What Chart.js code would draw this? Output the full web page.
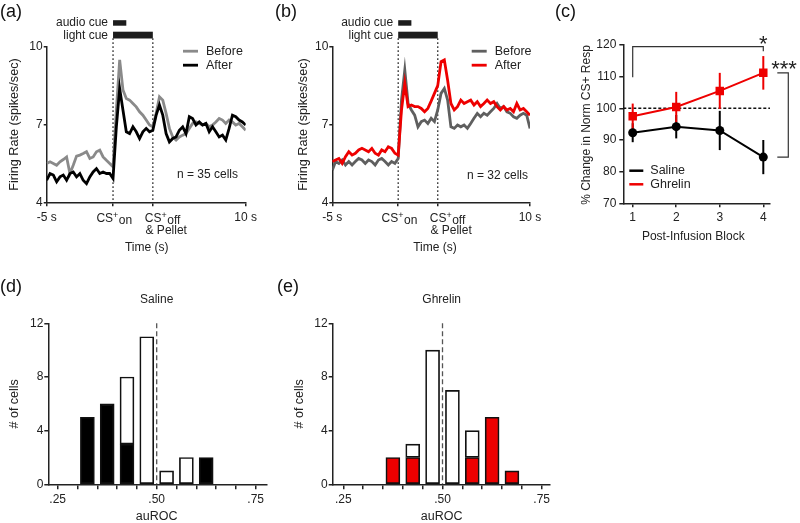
<!DOCTYPE html>
<html>
<head>
<meta charset="utf-8">
<title>CS+ firing rate, ghrelin vs saline</title>
<script src="https://cdn.jsdelivr.net/npm/chart.js@4.4.1/dist/chart.umd.min.js"></script>
<style>
  body { margin: 0; width: 800px; height: 523px; background: #fff; position: relative; overflow: hidden; }
  canvas { position: absolute; }
  .lab { position: absolute; font: 18px "Liberation Sans", Arial, sans-serif; line-height: 20px; color: #111; }
</style>
</head>
<body>
<canvas id="chartA" width="270" height="262" style="left:0;top:0"></canvas>
<canvas id="chartB" width="280" height="262" style="left:270px;top:0"></canvas>
<canvas id="chartC" width="260" height="250" style="left:540px;top:0"></canvas>
<canvas id="chartD" width="280" height="253" style="left:0;top:270px"></canvas>
<canvas id="chartE" width="280" height="253" style="left:280px;top:270px"></canvas>
<div class="lab" style="left:0;top:1px">(a)</div>
<div class="lab" style="left:275px;top:1px">(b)</div>
<div class="lab" style="left:555px;top:1px">(c)</div>
<div class="lab" style="left:0;top:276px">(d)</div>
<div class="lab" style="left:277px;top:276px">(e)</div>
<script>
// firing rate traces (spikes/sec), one value every 0.25 s
var traceTime = [-5, -4.75, -4.5, -4.25, -4, -3.75, -3.5, -3.25, -3, -2.75, -2.5, -2.25, -2, -1.75, -1.5, -1.25, -1, -0.75, -0.5, -0.25,
  0, 0.25, 0.5, 0.75, 1, 1.25, 1.5, 1.75, 2, 2.25, 2.5, 2.75, 3, 3.25, 3.5, 3.75, 4, 4.25, 4.5, 4.75, 5, 5.25, 5.5, 5.75,
  6, 6.25, 6.5, 6.75, 7, 7.25, 7.5, 7.75, 8, 8.25, 8.5, 8.75, 9, 9.25, 9.5, 9.75, 10];
var beforeA = [5.50, 5.56, 5.50, 5.43, 5.56, 5.65, 5.75, 5.11, 5.43, 5.78, 5.82, 5.88, 5.95, 5.69, 5.75, 5.95, 6.01, 5.75, 5.62, 5.50,
  5.37, 7.55, 9.49, 8.33, 8.00, 7.94, 7.81, 7.68, 7.49, 7.36, 7.17, 6.98, 6.91,
  7.43, 8.07, 7.94, 7.43, 6.85, 6.52, 6.40, 6.52, 6.59, 6.65, 6.85, 7.04, 7.10, 7.04, 6.98, 7.04, 6.91, 6.98, 7.10, 7.23, 7.17,
  7.04, 7.17, 7.10, 6.98, 7.04, 6.91, 6.78];
var afterA = [4.85, 5.11, 5.05, 4.79, 4.98, 5.05, 4.85, 5.11, 5.17, 4.98, 5.11, 4.85, 4.72, 4.98, 5.17, 5.30, 5.11, 5.17, 5.11, 5.11,
  4.92, 6.91, 8.39, 7.55, 6.72, 6.65, 6.91, 6.72, 6.46, 6.72, 6.85, 6.72, 6.78,
  7.36, 7.75, 7.36, 6.65, 6.33, 6.46, 6.52, 6.78, 6.91, 6.65, 7.30, 7.23, 6.98, 7.10, 6.98, 7.04, 6.72, 6.91, 6.72, 6.52, 6.59,
  6.40, 6.85, 7.36, 7.30, 7.17, 7.10, 6.98];
var beforeB = [5.24, 5.57, 5.50, 5.63, 5.44, 5.57, 5.44, 5.57, 5.69, 5.63, 5.50, 5.63, 5.57, 5.44, 5.63, 5.69, 5.57, 5.44, 5.57, 5.50,
  5.69, 7.94, 9.10, 7.81, 7.56, 7.36, 6.91, 7.11, 7.17, 7.04, 7.24, 7.11, 7.56,
  8.20, 8.39, 7.94, 6.91, 6.85, 6.98, 6.91, 6.98, 6.85, 7.04, 7.24, 7.43, 7.30, 7.43, 7.36, 7.49, 7.62, 7.81, 7.62, 7.69, 7.49,
  7.43, 7.30, 7.24, 7.36, 7.43, 7.36, 6.85];
var afterB = [5.57, 5.63, 5.69, 5.50, 5.76, 5.95, 5.82, 5.89, 6.02, 6.08, 6.02, 5.95, 6.08, 5.89, 5.82, 6.02, 5.95, 6.14, 6.08, 5.89,
  5.82, 7.56, 8.59, 7.69, 7.75, 7.69, 7.69, 7.62, 7.49, 7.62, 7.90, 8.20, 8.50,
  9.42, 9.49, 8.71, 7.81, 7.56, 7.69, 7.94, 7.81, 7.88, 7.94, 7.75, 7.88, 7.69, 7.81, 7.94, 7.81, 7.88, 7.69, 7.56, 7.69, 7.56,
  7.62, 7.49, 7.81, 7.56, 7.62, 7.49, 7.36];
var audioCue = [0, 1];
var lightCue = [0, 3];
var traceTicks = [-5, 0, 3, 10];
var traceTickLabels = ['-5 s', '', '', '10 s'];
var rateTicks = [4, 7, 10];

// % change in normalized CS+ response per post-infusion block
var blocks = [1, 2, 3, 4];
var salineMean = [92.3, 94.2, 93.0, 84.6];
var salineSem = [3.0, 3.7, 6.2, 5.4];
var ghrelinMean = [97.5, 100.4, 105.5, 111.2];
var ghrelinSem = [4.0, 4.8, 5.7, 5.3];
var changeTicks = [70, 80, 90, 100, 110, 120];

// auROC histograms: significant (filled) and non-significant (open) cells
var salineBins = [0.325, 0.375, 0.425, 0.475, 0.525, 0.575, 0.625];
var salineSig = [5, 6, 3, 0, 0, 0, 2];
var salineNs = [0, 0, 5, 11, 1, 2, 0];
var ghrelinBins = [0.375, 0.425, 0.475, 0.525, 0.575, 0.625, 0.675];
var ghrelinSig = [2, 2, 0, 0, 2, 5, 1];
var ghrelinNs = [0, 1, 10, 7, 2, 0, 0];
var aurocTicks = [0.25, 0.30, 0.35, 0.40, 0.45, 0.50, 0.55, 0.60, 0.65, 0.70, 0.75];
var aurocLabels = ['.25', '', '', '', '', '.50', '', '', '', '', '.75'];
var countTicks = [0, 4, 8, 12];

var FONT = '"Liberation Sans", Arial, Helvetica, sans-serif';
var RED = '#ee0000';
Chart.defaults.font.family = FONT;
Chart.defaults.font.size = 12;
Chart.defaults.color = '#222';

function xy(xs, ys) { return xs.map(function (x, i) { return {x: x, y: ys[i]}; }); }
function nz(v) { return v === 0 ? null : v; }

function txt(ctx, s, x, y, o) {
  o = o || {};
  ctx.save();
  ctx.font = (o.size || 12) + 'px ' + FONT;
  ctx.fillStyle = o.color || '#222';
  ctx.textAlign = o.align || 'center';
  ctx.textBaseline = o.base || 'middle';
  ctx.translate(x, y);
  if (o.rot) ctx.rotate(o.rot);
  ctx.fillText(s, 0, 0);
  ctx.restore();
}

function line(ctx, pts, color, width, dash) {
  ctx.save();
  ctx.strokeStyle = color;
  ctx.lineWidth = width;
  ctx.setLineDash(dash || []);
  ctx.beginPath();
  pts.forEach(function (p, i) { if (i) ctx.lineTo(p[0], p[1]); else ctx.moveTo(p[0], p[1]); });
  ctx.stroke();
  ctx.restore();
}

// "CS" with a raised plus and a lowered suffix
function csLabel(ctx, left, y, sub) {
  ctx.save();
  ctx.fillStyle = '#222';
  ctx.textAlign = 'left';
  ctx.textBaseline = 'alphabetic';
  ctx.font = '12px ' + FONT;
  ctx.fillText('CS', left, y + 4.3);
  var w = ctx.measureText('CS').width;
  ctx.font = '9px ' + FONT;
  ctx.fillText('+', left + w, y - 0.5);
  var w2 = ctx.measureText('+').width;
  ctx.font = '12px ' + FONT;
  ctx.fillText(sub, left + w + w2 + 0.5, y + 6);
  ctx.restore();
}

// page box of the canvas and wanted plot area -> padding and axis sizes
function frame(box, plot) {
  return {
    padding: {left: 0, top: plot.t - box.y, right: box.x + box.w - plot.r, bottom: 0},
    yw: plot.l - box.x,
    xh: box.y + box.h - plot.b
  };
}

function axis(o) {
  var ax = {
    type: 'linear',
    min: o.min,
    max: o.max,
    offset: false,
    border: {display: true, color: '#222', width: 1.5},
    grid: {display: true, drawOnChartArea: false, drawTicks: true, tickLength: o.tickLength || 4, color: '#222', lineWidth: 1.5, offset: false},
    ticks: {
      autoSkip: false, maxRotation: 0, padding: o.pad == null ? 3 : o.pad, color: '#222', font: {size: 12},
      callback: function (v, i) { return o.labels ? o.labels[i] : String(v); }
    },
    afterBuildTicks: function (s) { s.ticks = o.ticks.map(function (v) { return {value: v}; }); },
    afterFit: o.fit
  };
  if (o.stacked) ax.stacked = true;
  return ax;
}

function baseOptions(f, scales) {
  return {
    responsive: false,
    animation: false,
    layout: {padding: f.padding, autoPadding: false},
    plugins: {legend: {display: false}, tooltip: {enabled: false}, title: {display: false}},
    scales: scales
  };
}

function traceDecor(look) {
  var ox = look.box.x, oy = look.box.y;
  return {
    id: 'traceDecor',
    beforeDatasetsDraw: function (chart) {
      var a = chart.chartArea, xs = chart.scales.x;
      lightCue.forEach(function (v) {
        var x = xs.getPixelForValue(v);
        line(chart.ctx, [[x, a.top - 8.5], [x, a.bottom]], '#333', 1.3, [1.8, 2.2]);
      });
    },
    afterDraw: function (chart) {
      var ctx = chart.ctx, a = chart.chartArea, xs = chart.scales.x;
      var x0 = xs.getPixelForValue(lightCue[0]);
      var x3 = xs.getPixelForValue(lightCue[1]);
      var xa0 = xs.getPixelForValue(audioCue[0]);
      var xa1 = xs.getPixelForValue(audioCue[1]);
      ctx.save();
      ctx.fillStyle = '#1c1c1c';
      ctx.fillRect(xa0, a.top - 26.5, xa1 - xa0, 5.5);
      ctx.fillRect(x0, a.top - 15, x3 - x0, 6.8);
      ctx.restore();
      txt(ctx, 'audio cue', x0 - 5, a.top - 24, {align: 'right'});
      txt(ctx, 'light cue', x0 - 5, a.top - 11.5, {align: 'right'});

      // legend
      var lx = look.legendX - ox;
      line(ctx, [[lx, a.top + 4.5], [lx + 15, a.top + 4.5]], look.before, 2.8);
      line(ctx, [[lx, a.top + 18.5], [lx + 15, a.top + 18.5]], look.after, 2.8);
      txt(ctx, 'Before', lx + 23, a.top + 4.5, {align: 'left', size: 12.5});
      txt(ctx, 'After', lx + 23, a.top + 18.5, {align: 'left', size: 12.5});
      txt(ctx, look.nText, look.nX - ox, look.nY - oy, {align: 'right'});

      // cue tick labels
      csLabel(ctx, x0 - 16.6, 218 - oy, 'on');
      csLabel(ctx, x3 - 8, 218 - oy, 'off');
      txt(ctx, '& Pellet', x3 - 7.3, 231 - oy, {align: 'left'});

      txt(ctx, 'Firing Rate (spikes/sec)', look.yTitleX - ox, (a.top + a.bottom) / 2, {rot: -Math.PI / 2, size: 12.6});
      txt(ctx, 'Time (s)', look.xTitleX - ox, 248 - oy);
    }
  };
}

function tracePanel(id, look, before, after) {
  var f = frame(look.box, look.plot);
  return new Chart(document.getElementById(id), {
    type: 'line',
    data: {
      datasets: [
        {label: 'After', data: xy(traceTime, after), borderColor: look.after, borderWidth: 2.8, pointRadius: 0, tension: 0},
        {label: 'Before', data: xy(traceTime, before), borderColor: look.before, borderWidth: 2.8, pointRadius: 0, tension: 0}
      ]
    },
    options: baseOptions(f, {
      x: axis({min: -5, max: 10, ticks: traceTicks, labels: traceTickLabels, tickLength: 4, pad: 4,
        fit: function (s) { s.height = f.xh; }}),
      y: axis({min: 4, max: 10, ticks: rateTicks, tickLength: 3, pad: 1,
        fit: function (s) { s.width = f.yw; }})
    }),
    plugins: [traceDecor(look)]
  });
}

function histDecor(look) {
  var ox = look.box.x, oy = look.box.y;
  return {
    id: 'histDecor',
    beforeDatasetsDraw: function (chart) {
      var xs = chart.scales.x, ys = chart.scales.y;
      var x = xs.getPixelForValue(0.5);
      line(chart.ctx, [[x, ys.getPixelForValue(12)], [x, ys.getPixelForValue(0)]], '#555', 1.3, [5, 3]);
    },
    afterDraw: function (chart) {
      var ctx = chart.ctx, a = chart.chartArea;
      txt(ctx, look.title, look.titleX - ox, 300 - oy);
      txt(ctx, 'auROC', look.titleX - ox, 516.7 - oy, {size: 12.5});
      txt(ctx, '# of cells', look.yTitleX - ox, (a.top + a.bottom) / 2, {rot: -Math.PI / 2, size: 12.5});
    }
  };
}

function histPanel(id, look, bins, sig, ns, fill, xmin, xmax) {
  var f = frame(look.box, look.plot);
  return new Chart(document.getElementById(id), {
    type: 'bar',
    data: {
      datasets: [
        {label: 'significant', data: xy(bins, sig.map(nz)), backgroundColor: fill, borderColor: '#111',
          borderWidth: 1.7, barThickness: 14, borderSkipped: false},
        {label: 'not significant', data: xy(bins, ns.map(nz)), backgroundColor: '#fff', borderColor: '#111',
          borderWidth: 1.7, barThickness: 14, borderSkipped: false}
      ]
    },
    options: baseOptions(f, {
      x: axis({min: xmin, max: xmax, ticks: aurocTicks, labels: aurocLabels, tickLength: 5, pad: 3, stacked: true,
        fit: function (s) { s.height = f.xh; }}),
      y: axis({min: 0, max: 12, ticks: countTicks, tickLength: 4, pad: 1, stacked: true,
        fit: function (s) { s.width = f.yw; }})
    }),
    plugins: [histDecor(look)]
  });
}

tracePanel('chartA', {
  box: {x: 0, y: 0, w: 270, h: 262}, plot: {l: 46.7, t: 46.7, r: 245.7, b: 202.3},
  legendX: 183, nX: 238, nY: 175, nText: 'n = 35 cells', yTitleX: 15, xTitleX: 146.7,
  before: '#8a8a8a', after: '#000'
}, beforeA, afterA);

tracePanel('chartB', {
  box: {x: 270, y: 0, w: 280, h: 262}, plot: {l: 332.3, t: 46.7, r: 530, b: 202.3},
  legendX: 471.7, nX: 528, nY: 176, nText: 'n = 32 cells', yTitleX: 303.3, xTitleX: 435,
  before: '#5f5f5f', after: RED
}, beforeB, afterB);

// panel (c)
var boxC = {x: 540, y: 0, w: 260, h: 250};
var fc = frame(boxC, {l: 623.3, t: 45, r: 770, b: 203.3});
var changeDecor = {
  id: 'changeDecor',
  beforeDatasetsDraw: function (chart) {
    var ctx = chart.ctx, a = chart.chartArea, xs = chart.scales.x, ys = chart.scales.y;
    var y100 = ys.getPixelForValue(100);
    line(ctx, [[a.left, y100], [a.right, y100]], '#111', 1.5, [3, 2]);
    [[salineMean, salineSem, '#000'], [ghrelinMean, ghrelinSem, RED]].forEach(function (s) {
      blocks.forEach(function (b, i) {
        var x = xs.getPixelForValue(b);
        line(ctx, [[x, ys.getPixelForValue(s[0][i] - s[1][i])], [x, ys.getPixelForValue(s[0][i] + s[1][i])]], s[2], 2);
      });
    });
  },
  afterDraw: function (chart) {
    var ctx = chart.ctx, a = chart.chartArea, xs = chart.scales.x, ys = chart.scales.y;
    var x1 = xs.getPixelForValue(blocks[0]), x4 = xs.getPixelForValue(blocks[3]);
    var yb = ys.getPixelForValue(119.5);
    line(ctx, [[x1, ys.getPixelForValue(109.8)], [x1, yb], [x4, yb], [x4, ys.getPixelForValue(118)]], '#333', 1.2);
    txt(ctx, '*', x4, yb + 4.5, {size: 22, base: 'alphabetic'});
    var yTop = ys.getPixelForValue(ghrelinMean[3]), yBot = ys.getPixelForValue(salineMean[3]);
    var r1 = a.right + 7.3, r2 = a.right + 18.3;
    line(ctx, [[r1, yTop], [r2, yTop], [r2, yBot], [r1, yBot]], '#333', 1.2);
    txt(ctx, '***', a.right + 14, yTop + 3, {size: 22, base: 'alphabetic'});

    line(ctx, [[a.left + 6, a.bottom - 32.6], [a.left + 20, a.bottom - 32.6]], '#000', 2.5);
    line(ctx, [[a.left + 6, a.bottom - 19], [a.left + 20, a.bottom - 19]], RED, 2.5);
    txt(ctx, 'Saline', a.left + 27, a.bottom - 32.6, {align: 'left', size: 12.5});
    txt(ctx, 'Ghrelin', a.left + 27, a.bottom - 19, {align: 'left', size: 12.5});

    txt(ctx, '% Change in Norm CS+ Resp', 586.7 - boxC.x, 125, {rot: -Math.PI / 2});
    txt(ctx, 'Post-Infusion Block', 693.3 - boxC.x, 237);
  }
};
new Chart(document.getElementById('chartC'), {
  type: 'line',
  data: {
    datasets: [
      {label: 'Saline', data: xy(blocks, salineMean), borderColor: '#000', backgroundColor: '#000', borderWidth: 2,
        pointStyle: 'circle', pointRadius: 4.5, pointBorderWidth: 0, tension: 0},
      {label: 'Ghrelin', data: xy(blocks, ghrelinMean), borderColor: RED, backgroundColor: RED, borderWidth: 2,
        pointStyle: 'rect', pointRadius: 6, pointBorderWidth: 0, tension: 0}
    ]
  },
  options: baseOptions(fc, {
    x: axis({min: 0.784, max: 4.154, ticks: blocks, tickLength: 4, pad: 3, fit: function (s) { s.height = fc.xh; }}),
    y: axis({min: 70, max: 120, ticks: changeTicks, tickLength: 4, pad: 3, fit: function (s) { s.width = fc.yw; }})
  }),
  plugins: [changeDecor]
});

histPanel('chartD', {
  box: {x: 0, y: 270, w: 280, h: 253}, plot: {l: 48.3, t: 323.3, r: 266.7, b: 484.3},
  title: 'Saline', titleX: 156.7, yTitleX: 15
}, salineBins, salineSig, salineNs, '#000', 0.2263, 0.7778);

histPanel('chartE', {
  box: {x: 280, y: 270, w: 280, h: 253}, plot: {l: 332.7, t: 323.3, r: 550, b: 484.3},
  title: 'Ghrelin', titleX: 441.7, yTitleX: 300
}, ghrelinBins, ghrelinSig, ghrelinNs, RED, 0.2233, 0.7709);
</script>
</body>
</html>
